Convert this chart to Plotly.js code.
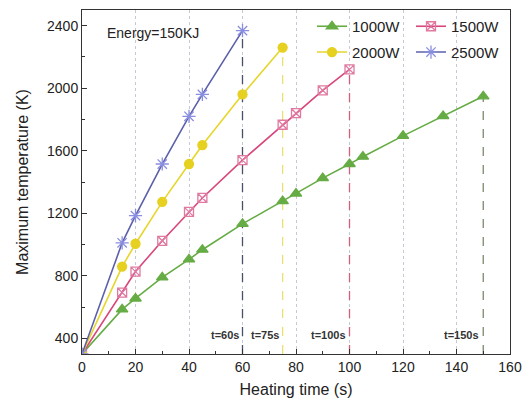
<!DOCTYPE html>
<html><head><meta charset="utf-8">
<script src="https://cdn.plot.ly/plotly-3.0.1.min.js"></script>
<style>html,body{margin:0;padding:0;background:#fff}#c{width:529px;height:406px}</style>
</head><body><div id="c"></div>
<script>
// Data
const t1000 = [0, 15, 20, 30, 40, 45, 60, 75, 80, 90, 100, 105, 120, 135, 150];
const T1000 = [300, 585, 655, 790, 905, 967, 1132, 1278, 1326, 1425, 1515, 1562, 1695, 1822, 1948];
const t1500 = [0, 15, 20, 30, 40, 45, 60, 75, 80, 90, 100];
const T1500 = [300, 693, 827, 1024, 1209, 1298, 1540, 1766, 1840, 1986, 2120];
const t2000 = [0, 15, 20, 30, 40, 45, 60, 75];
const T2000 = [300, 859, 1005, 1273, 1515, 1636, 1960, 2260];
const t2500 = [0, 15, 20, 30, 40, 45, 60];
const T2500 = [300, 1011, 1185, 1515, 1820, 1960, 2368];
const seriesNames = ["1000W", "1500W", "2000W", "2500W"];
const endLabels = ["t=60s", "t=75s", "t=100s", "t=150s"];
const xTickVals = [0, 20, 40, 60, 80, 100, 120, 140, 160];
const yTickVals = [400, 800, 1200, 1600, 2000, 2400];

const series = [
  {x: t1000, y: T1000, name: seriesNames[0], color: "#66ac45", mcolor: "#66ac45", symbol: "triangle-up", size: 10, legend: "legend"},
  {x: t1500, y: T1500, name: seriesNames[1], color: "#d8467c", mcolor: "#e07aa0", symbol: "square-x-open", size: 9, legend: "legend"},
  {x: t2000, y: T2000, name: seriesNames[2], color: "#e6d62c", mcolor: "#e6d020", symbol: "circle", size: 9, legend: "legend2"},
  {x: t2500, y: T2500, name: seriesNames[3], color: "#5c60aa", mcolor: "#8a8ee0", symbol: "asterisk-open", size: 11, legend: "legend2"}
];
const traces = [];
const endStyles = [
  {s: 3, color: "#4a4f6a"},
  {s: 2, color: "#e8e070"},
  {s: 1, color: "#d0607e"},
  {s: 0, color: "#7a8a6a"}
];
endStyles.forEach(e => {
  const s = series[e.s];
  const tx = s.x[s.x.length - 1], ty = s.y[s.y.length - 1];
  traces.push({x: [tx, tx], y: [300, ty], mode: "lines", showlegend: false, hoverinfo: "skip",
    line: {color: e.color, width: 1.3, dash: "dash"}});
});
[0,1,2,3].forEach(i => {
  const s = series[i];
  traces.push({x: s.x, y: s.y, name: s.name, mode: "lines+markers", legend: s.legend,
    line: {color: s.color, width: 1.6},
    marker: {symbol: s.symbol, size: s.size, color: s.mcolor, line: {color: s.mcolor, width: 1.3}}});
});

const annotations = [
  {x: 8.5, xref: "x", y: 2350, yref: "y", text: "Energy=150KJ", showarrow: false, xanchor: "left", yanchor: "middle",
   font: {size: 14, color: "#222"}}
];
endStyles.forEach((e, k) => {
  const s = series[e.s];
  annotations.push({x: s.x[s.x.length - 1], xref: "x", y: 420, yref: "y", text: "<b>" + endLabels[k] + "</b>",
    showarrow: false, xanchor: "right", yanchor: "middle", xshift: -2, font: {size: 11, color: "#333"}});
});

const axisFont = {family: "Liberation Sans, Arial, sans-serif", size: 14, color: "#222"};
const layout = {
  width: 529, height: 406,
  margin: {l: 82, r: 19, t: 10, b: 52},
  paper_bgcolor: "#fff", plot_bgcolor: "#fff",
  font: {family: "Liberation Sans, Arial, sans-serif", color: "#222"},
  xaxis: {range: [0, 160], tickvals: xTickVals, ticks: "inside", ticklen: 5, tickcolor: "#333", tickwidth: 1,
    minor: {dtick: 10, ticks: "inside", ticklen: 3, tickcolor: "#333", showgrid: false},
    showline: true, linecolor: "#333", linewidth: 1, mirror: true, zeroline: false,
    showgrid: true, gridcolor: "#c4c9d8", griddash: "dot", gridwidth: 1,
    tickfont: axisFont, title: {text: "Heating time (s)", font: {size: 16, color: "#222"}, standoff: 10}},
  yaxis: {range: [300, 2500], tickvals: yTickVals, ticks: "inside", ticklen: 5, tickcolor: "#333",
    minor: {dtick: 200, ticks: "inside", ticklen: 3, tickcolor: "#333", showgrid: false},
    showline: true, linecolor: "#333", linewidth: 1, mirror: true, zeroline: false, showgrid: false,
    tickfont: axisFont, title: {text: "Maximum temperature (K)", font: {size: 16, color: "#222"}, standoff: 14}},
  legend: {orientation: "h", x: 1.0, xanchor: "right", y: 1.0, yanchor: "top", bgcolor: "rgba(0,0,0,0)",
    font: {size: 15, color: "#222"}, entrywidth: 54, itemwidth: 30},
  legend2: {orientation: "h", x: 1.0, xanchor: "right", y: 0.925, yanchor: "top", bgcolor: "rgba(0,0,0,0)",
    font: {size: 15, color: "#222"}, entrywidth: 54, itemwidth: 30},
  annotations: annotations,
  showlegend: true
};
Plotly.newPlot("c", traces, layout, {staticPlot: true, displayModeBar: false});
</script>
</body></html>
